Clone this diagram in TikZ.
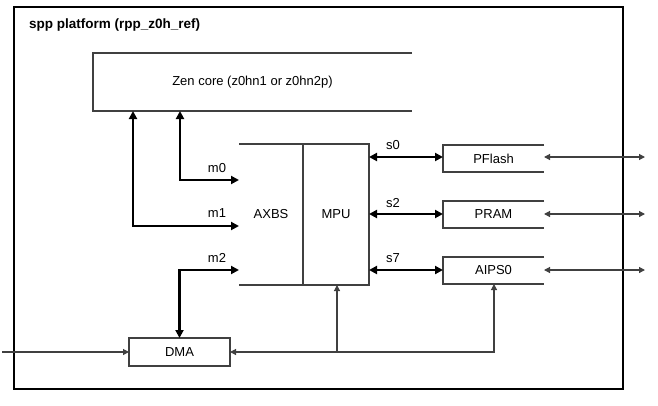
\documentclass[tikz,border=0pt]{standalone}
\usepackage{fontspec}
\setmainfont{Liberation Sans}
\usetikzlibrary{arrows.meta}
\definecolor{thinc}{HTML}{404040}
\tikzset{
  lbl/.style={inner sep=0pt, font=\fontsize{13}{15}\selectfont},
  boxline/.style={draw=thinc, line width=1.2pt},
  frameline/.style={draw=black, line width=2.4pt},
  bigarrow/.style={draw=black, line width=2.4pt, {Triangle[length=8pt,width=8pt]}-{Triangle[length=8pt,width=8pt]}},
  smallarrow/.style={draw=thinc, line width=1.2pt, {Triangle[length=6pt,width=6pt]}-{Triangle[length=6pt,width=6pt]}},
  smallone/.style={draw=thinc, line width=1.2pt, -{Triangle[length=6pt,width=6pt]}},
  blk/.style={inner sep=0pt, outer sep=0pt, font=\fontsize{13}{15}\selectfont}
}
\begin{document}
\begin{tikzpicture}[x=1pt,y=-1pt]
\useasboundingbox (0,0) rectangle (658,405);
% outer frame
\node[draw=black, line width=2.4pt, minimum width=609pt, minimum height=382pt, inner sep=0pt] (frame) at (318.5,198) {};
\node[lbl, anchor=west, font=\fontsize{13.5}{15}\selectfont\bfseries] (title) at (29,25) {spp platform (rpp\_z0h\_ref)};
% Zen core (open right side)
\node[blk, minimum width=319pt, minimum height=58pt] (zen) at (252.5,82) {Zen core (z0hn1 or z0hn2p)};
\draw[boxline] (zen.north east) -- (zen.north west) -- (zen.south west) -- (zen.south east);
% AXBS (open left) and MPU
\node[blk, minimum width=64pt, minimum height=141pt] (axbs) at (271,214.5) {AXBS};
\node[blk, minimum width=66pt, minimum height=141pt] (mpu) at (336,214.5) {MPU};
\draw[boxline] (axbs.north west) -- (mpu.north east) -- (mpu.south east) -- (axbs.south west);
\draw[boxline] (mpu.north west) -- (mpu.south west);
% slaves (open right)
\node[blk, minimum width=101pt, minimum height=27pt] (pflash) at (493.5,158.5) {PFlash};
\node[blk, minimum width=101pt, minimum height=27pt] (pram) at (493.5,214.5) {PRAM};
\node[blk, minimum width=101pt, minimum height=27pt] (aips) at (493.5,270.5) {AIPS0};
\foreach \n in {pflash,pram,aips}{
  \draw[boxline] (\n.north east) -- (\n.north west) -- (\n.south west) -- (\n.south east);
}
% DMA
\node[blk, draw=thinc, line width=1.2pt, minimum width=101pt, minimum height=28pt] (dma) at (179.5,352) {DMA};
% master ports
\coordinate (p0) at (axbs.west |- 0,180);
\coordinate (p1) at (axbs.west |- 0,226);
\coordinate (p2) at (axbs.west |- 0,270);
\draw[bigarrow] (zen.south -| 180,0) |- (p0);
\draw[bigarrow] (zen.south -| 133,0) |- (p1);
\draw[bigarrow] (dma.north) |- (p2);
\node[lbl] (m0) at (217,168) {m0};
\node[lbl] (m1) at (217,213) {m1};
\node[lbl] (m2) at (217,258) {m2};
% slave ports
\draw[bigarrow] (mpu.east |- 0,157) -- (pflash.west |- 0,157);
\draw[bigarrow] (mpu.east |- 0,214) -- (pram.west |- 0,214);
\draw[bigarrow] (mpu.east |- 0,270) -- (aips.west |- 0,270);
\node[lbl] (s0) at (393,145) {s0};
\node[lbl] (s2) at (393,203) {s2};
\node[lbl] (s7) at (393,258) {s7};
% external
\coordinate (e0) at (645,157);
\coordinate (e1) at (645,214);
\coordinate (e2) at (645,270);
\draw[smallarrow] (pflash.east |- e0) -- (e0);
\draw[smallarrow] (pram.east |- e1) -- (e1);
\draw[smallarrow] (aips.east |- e2) -- (e2);
% bottom bus
\coordinate (j) at (337,352);
\coordinate (inp) at (2,352);
\draw[smallarrow] (aips.south -| 494,0) |- (dma.east);
\draw[smallone] (j) -- (mpu.south -| j);
\draw[smallone] (inp) -- (dma.west);
\end{tikzpicture}
\end{document}
